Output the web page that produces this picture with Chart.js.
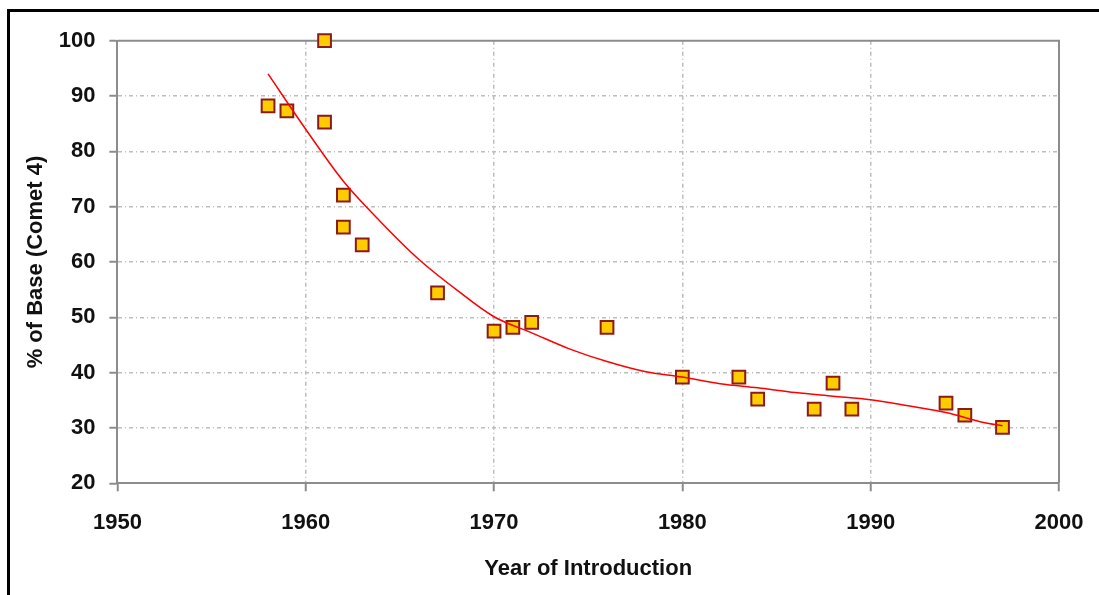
<!DOCTYPE html>
<html>
<head>
<meta charset="utf-8">
<title>Year of Introduction vs % of Base</title>
<script src="https://cdn.jsdelivr.net/npm/chart.js@4.4.1/dist/chart.umd.min.js"></script>
<style>
  html, body { margin: 0; padding: 0; background: #fff; }
  #wrap { position: relative; width: 1099px; height: 595px; }
</style>
</head>
<body>
<div id="wrap"><canvas id="costChart" width="1099" height="595"></canvas></div>
<script>
// Aircraft introductions: year and cost as % of the Comet 4 base
const years = [1958, 1959, 1961, 1961, 1962, 1962, 1963, 1967, 1970, 1971, 1972,
               1976, 1980, 1983, 1984, 1987, 1988, 1989, 1994, 1995, 1997];
const pctOfBase = [88.2, 87.3, 100, 85.3, 72.1, 66.3, 63.1, 54.4, 47.5, 48.2, 49.1,
                   48.2, 39.2, 39.2, 35.2, 33.4, 38.1, 33.4, 34.5, 32.3, 30.1];

// Fitted trend line
const trendYears = [1958, 1960, 1962, 1964, 1966, 1968, 1970, 1972, 1974, 1976, 1978,
                    1980, 1982, 1984, 1986, 1988, 1990, 1992, 1994, 1996, 1997];
const trendValues = [94, 84, 74.6, 67.2, 60.5, 55, 50.1, 47.2, 44.3, 42, 40.2,
                     39.2, 38, 37.25, 36.4, 35.75, 35.1, 34, 32.8, 31, 30.4];

const xTicks = [1950, 1960, 1970, 1980, 1990, 2000];
const yTicks = [20, 30, 40, 50, 60, 70, 80, 90, 100];

const FONT = "'Liberation Sans', Arial, sans-serif";
const AXIS_GRAY = "#8c8c8c";
const GRID_GRAY = "#bdbdbd";

function toPoints(xs, ys) {
    return xs.map((x, i) => ({ x: x, y: ys[i] }));
}

// black frame round the figure and grey box round the plot area
const framePlugin = {
    id: "frame",
    beforeDraw(chart) {
        const ctx = chart.ctx;
        ctx.save();
        ctx.fillStyle = "#fff";
        ctx.fillRect(0, 0, chart.width, chart.height);
        ctx.fillStyle = "#000";
        ctx.fillRect(7, 9, 3, chart.height - 9);
        ctx.fillRect(7, 9, chart.width - 7, 3);
        ctx.restore();
    },
    beforeDatasetsDraw(chart) {
        const a = chart.chartArea;
        const ctx = chart.ctx;
        ctx.save();
        ctx.strokeStyle = AXIS_GRAY;
        ctx.lineWidth = 2;
        ctx.beginPath();
        ctx.moveTo(a.left, a.top);
        ctx.lineTo(a.right, a.top);
        ctx.lineTo(a.right, a.bottom);
        ctx.stroke();
        ctx.restore();
    }
};

const ctx = document.getElementById("costChart").getContext("2d");
new Chart(ctx, {
    type: "scatter",
    data: {
        datasets: [
            {
                label: "Trend",
                data: toPoints(trendYears, trendValues),
                showLine: true,
                borderColor: "#ff0000",
                borderWidth: 1.5,
                pointRadius: 0,
                tension: 0.4,
                cubicInterpolationMode: "monotone",
                order: 0,
                clip: false
            },
            {
                label: "% of Base",
                data: toPoints(years, pctOfBase),
                pointStyle: "rect",
                pointRadius: 9,
                backgroundColor: "#ffcc00",
                borderColor: "#8b1a1a",
                pointBorderWidth: 2,
                order: 1,
                clip: false
            }
        ]
    },
    options: {
        responsive: false,
        animation: false,
        layout: { padding: { top: 40.7, right: 40, left: 0, bottom: 0 } },
        plugins: { legend: { display: false }, tooltip: { enabled: false } },
        scales: {
            x: {
                type: "linear",
                min: 1950,
                max: 2000,
                afterBuildTicks: scale => { scale.ticks = xTicks.map(v => ({ value: v })); },
                afterFit: scale => {
                    scale.height = 595 - 483.3;
                    scale.paddingLeft = 0;
                    scale.paddingRight = 0;
                },
                border: { display: true, color: AXIS_GRAY, width: 2, dash: [4, 3, 1, 3] },
                grid: {
                    color: c => (c.tick && (c.tick.value === 1950 || c.tick.value === 2000)) ? "rgba(0,0,0,0)" : GRID_GRAY,
                    lineWidth: 1.5,
                    drawTicks: true,
                    tickLength: 8,
                    tickColor: AXIS_GRAY,
                    tickWidth: 2
                },
                ticks: {
                    padding: 18,
                    color: "#111",
                    font: { family: FONT, size: 22, weight: "bold" },
                    callback: v => String(v),
                    maxRotation: 0
                },
                title: {
                    display: true,
                    text: "Year of Introduction",
                    color: "#111",
                    font: { family: FONT, size: 22, weight: "bold" },
                    padding: { top: 0, bottom: 13 }
                }
            },
            y: {
                min: 20,
                max: 100,
                afterBuildTicks: scale => { scale.ticks = yTicks.map(v => ({ value: v })); },
                afterFit: scale => { scale.width = 117.4; },
                border: { display: true, color: AXIS_GRAY, width: 2, dash: [4, 3, 1, 3] },
                grid: {
                    color: c => (c.tick && (c.tick.value === 20 || c.tick.value === 100)) ? "rgba(0,0,0,0)" : GRID_GRAY,
                    lineWidth: 1.5,
                    drawTicks: true,
                    tickLength: 8,
                    tickColor: AXIS_GRAY,
                    tickWidth: 2
                },
                ticks: {
                    padding: 14,
                    color: "#111",
                    font: { family: FONT, size: 22, weight: "bold" }
                },
                title: {
                    display: true,
                    text: "% of Base (Comet 4)",
                    color: "#111",
                    font: { family: FONT, size: 22, weight: "bold" },
                    padding: { top: 23, bottom: 0 }
                }
            }
        }
    },
    plugins: [framePlugin]
});
</script>
</body>
</html>
